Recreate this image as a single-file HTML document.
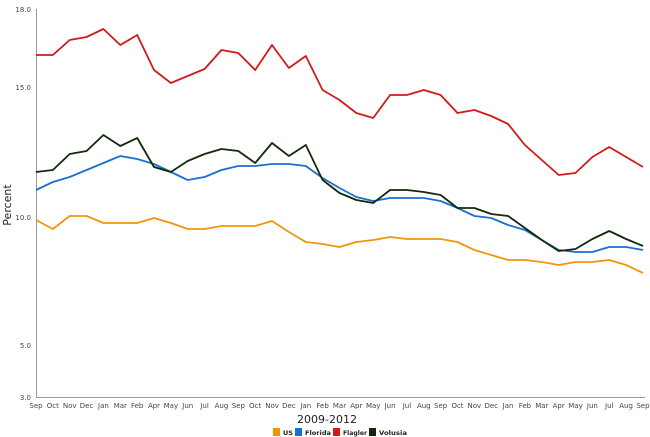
<!DOCTYPE html>
<html><head><meta charset="utf-8"><style>body{margin:0;background:#fff}svg{display:block;font-family:"DejaVu Sans","Liberation Sans",sans-serif}</style></head>
<body>
<svg width="650" height="437" viewBox="0 0 650 437">
<g font-size="7" fill="#444" text-anchor="end">
<text x="31" y="12">18.0</text><text x="31" y="90">15.0</text><text x="31" y="220">10.0</text><text x="31" y="348">5.0</text><text x="31" y="400">3.0</text>
</g>
<text transform="translate(11,205) rotate(-90)" font-size="11" text-anchor="middle" fill="#222">Percent</text>
<line x1="36.5" y1="9" x2="36.5" y2="397" stroke="#999"/>
<line x1="36" y1="397.5" x2="645" y2="397.5" stroke="#999"/>
<g id="xl" font-size="7" fill="#444" text-anchor="middle"></g>
<text x="327" y="423" font-size="11" text-anchor="middle" fill="#222">2009-2012</text>
<g font-size="6.5" font-weight="bold" fill="#222">
<rect x="273" y="428" width="7" height="8" fill="#f0960a"/><text x="283" y="435" textLength="10" lengthAdjust="spacingAndGlyphs">US</text>
<rect x="295" y="428" width="7" height="8" fill="#1a6fd1"/><text x="305" y="435" textLength="26" lengthAdjust="spacingAndGlyphs">Florida</text>
<rect x="333" y="428" width="7" height="8" fill="#d11a1a"/><text x="343" y="435" textLength="24" lengthAdjust="spacingAndGlyphs">Flagler</text>
<rect x="369" y="428" width="7" height="8" fill="#102a0a"/><text x="379" y="435" textLength="28" lengthAdjust="spacingAndGlyphs">Volusia</text>
</g>
<g id="lines" fill="none" stroke-width="1.8" stroke-linejoin="round"></g>
</svg>
<script>
var m=["Sep","Oct","Nov","Dec","Jan","Mar","Feb","Apr","May","Jun","Jul","Aug","Sep","Oct","Nov","Dec","Jan","Feb","Mar","Apr","May","Jun","Jul","Aug","Sep","Oct","Nov","Dec","Jan","Feb","Mar","Apr","May","Jun","Jul","Aug","Sep"];
var ns="http://www.w3.org/2000/svg",xl=document.getElementById("xl");
function X(i){return 36+i*16.86;}
m.forEach(function(t,i){var e=document.createElementNS(ns,"text");e.setAttribute("x",X(i));e.setAttribute("y",408);e.textContent=t;xl.appendChild(e);});
var d={
"#f0960a":[220,229,216,216,223,223,223,218,223,229,229,226,226,226,221,232,242,244,247,242,240,237,239,239,239,242,250,255,260,260,262,265,262,262,260,265,273],
"#1a6fd1":[190,182,177,170,163,156,159,164,172,180,177,170,166,166,164,164,166,178,188,197,201,198,198,198,201,208,216,218,225,230,240,250,252,252,247,247,250],
"#d11a1a":[55,55,40,37,29,45,35,70,83,76,69,50,53,70,45,68,56,90,100,113,118,95,95,90,95,113,110,116,124,145,160,175,173,157,147,157,167],
"#102a0a":[172,170,154,151,135,146,138,167,172,161,154,149,151,163,143,156,145,180,193,200,203,190,190,192,195,208,208,214,216,228,240,251,249,239,231,239,246]};
var g=document.getElementById("lines");
for(var c in d){var p=document.createElementNS(ns,"polyline");p.setAttribute("points",d[c].map(function(y,i){return X(i).toFixed(1)+","+y;}).join(" "));p.setAttribute("stroke",c);g.appendChild(p);}
</script>
</body></html>
